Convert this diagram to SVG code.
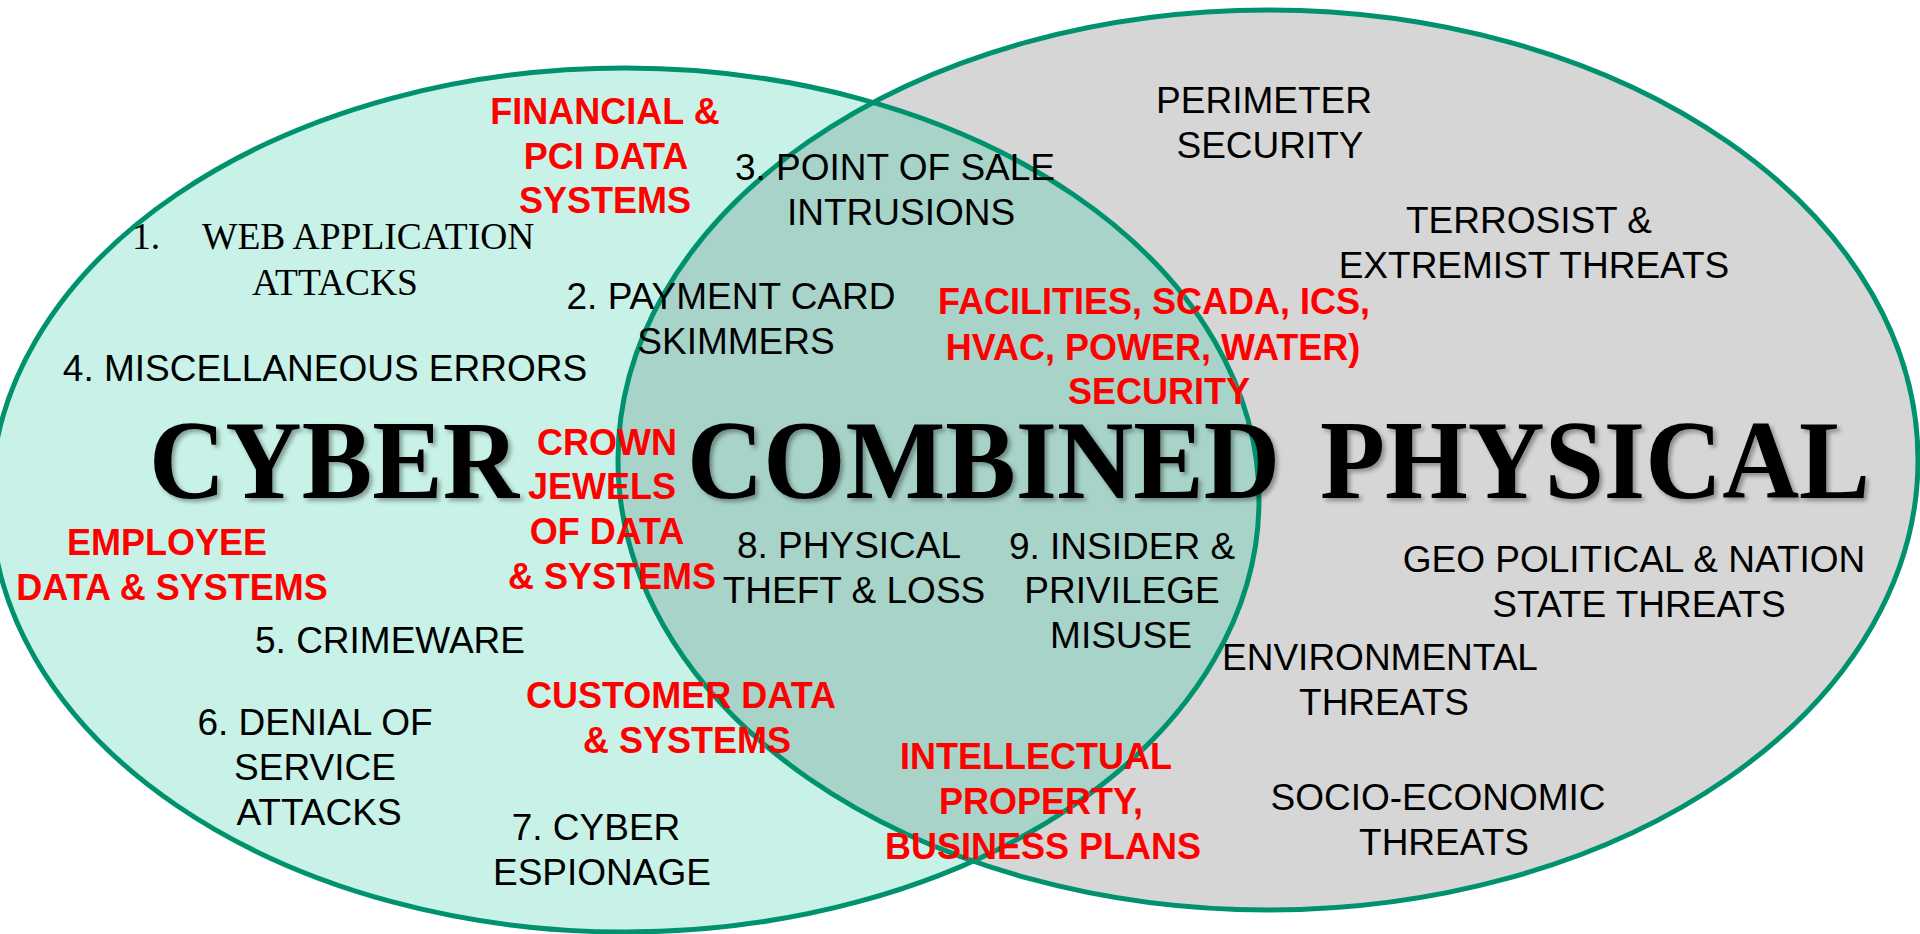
<svg xmlns="http://www.w3.org/2000/svg" width="1920" height="934" viewBox="0 0 1920 934">
<style>
.blk{font-family:"Liberation Sans",Arial,sans-serif;font-size:37px;fill:#000;text-anchor:middle}
.red{font-family:"Liberation Sans",Arial,sans-serif;font-size:36px;font-weight:bold;fill:#ff0000;text-anchor:middle}
.tms{font-family:"Liberation Serif","Times New Roman",serif;font-size:37.5px;fill:#000}
.big{font-family:"Liberation Serif","Times New Roman",serif;font-size:112px;font-weight:bold;fill:#000;filter:url(#sh)}
.ring{fill:none;stroke:#00926e;stroke-width:5}
</style>
<defs>
<filter id="sh" x="-5%" y="-20%" width="110%" height="140%">
<feDropShadow dx="3" dy="3" stdDeviation="2" flood-color="#000" flood-opacity="0.35"/>
</filter>
<clipPath id="leftClip"><ellipse cx="625" cy="500" rx="634" ry="432"/></clipPath>
</defs>
<rect width="1920" height="934" fill="#ffffff"/>
<g id="shapes">
<ellipse id="cyber-set" cx="625" cy="500" rx="634" ry="432" fill="#c8f2e7"/>
<ellipse id="physical-set" cx="1268" cy="460" rx="650" ry="450" fill="#d6d6d6"/>
<ellipse id="overlap" cx="1268" cy="460" rx="650" ry="450" fill="#a8d3c9" clip-path="url(#leftClip)"/>
<ellipse class="ring" cx="625" cy="500" rx="634" ry="432"/>
<ellipse class="ring" cx="1268" cy="460" rx="650" ry="450"/>
</g>
<g id="connectors"/>
<g id="titles">
<text id="t-cyber" class="big" x="149" y="498" textLength="370" lengthAdjust="spacingAndGlyphs">CYBER</text>
<text id="t-combined" class="big" x="687" y="498" textLength="593" lengthAdjust="spacingAndGlyphs">COMBINED</text>
<text id="t-physical" class="big" x="1320" y="498" textLength="550" lengthAdjust="spacingAndGlyphs">PHYSICAL</text>
</g>
<g id="n-financial"><text class="red"><tspan x="605" y="124">FINANCIAL &amp;</tspan><tspan x="606" y="169">PCI DATA</tspan><tspan x="605" y="213">SYSTEMS</tspan></text></g>
<g id="n-web"><text class="tms"><tspan x="132" y="249">1.</tspan><tspan x="202" y="249">WEB APPLICATION</tspan><tspan x="335" y="295" text-anchor="middle">ATTACKS</tspan></text></g>
<g id="n-pos"><text class="blk"><tspan x="895" y="180">3. POINT OF SALE</tspan><tspan x="901" y="225">INTRUSIONS</tspan></text></g>
<g id="n-payment"><text class="blk"><tspan x="731" y="309">2. PAYMENT CARD</tspan><tspan x="736" y="354">SKIMMERS</tspan></text></g>
<g id="n-misc"><text class="blk"><tspan x="325" y="381">4. MISCELLANEOUS ERRORS</tspan></text></g>
<g id="n-crown"><text class="red"><tspan x="607" y="455">CROWN</tspan><tspan x="602" y="499">JEWELS</tspan><tspan x="607" y="544">OF DATA</tspan><tspan x="612" y="589">&amp; SYSTEMS</tspan></text></g>
<g id="n-employee"><text class="red"><tspan x="167" y="555">EMPLOYEE</tspan><tspan x="172" y="600">DATA &amp; SYSTEMS</tspan></text></g>
<g id="n-crimeware"><text class="blk"><tspan x="390" y="653">5. CRIMEWARE</tspan></text></g>
<g id="n-dos"><text class="blk"><tspan x="315" y="735">6. DENIAL OF</tspan><tspan x="315" y="780">SERVICE</tspan><tspan x="319" y="825">ATTACKS</tspan></text></g>
<g id="n-customer"><text class="red"><tspan x="681" y="708">CUSTOMER DATA</tspan><tspan x="687" y="753">&amp; SYSTEMS</tspan></text></g>
<g id="n-espionage"><text class="blk"><tspan x="596" y="840">7. CYBER</tspan><tspan x="602" y="885">ESPIONAGE</tspan></text></g>
<g id="n-theft"><text class="blk"><tspan x="849" y="558">8. PHYSICAL</tspan><tspan x="854" y="603">THEFT &amp; LOSS</tspan></text></g>
<g id="n-insider"><text class="blk"><tspan x="1122" y="559">9. INSIDER &amp;</tspan><tspan x="1122" y="603">PRIVILEGE</tspan><tspan x="1121" y="648">MISUSE</tspan></text></g>
<g id="n-ip"><text class="red"><tspan x="1036" y="769">INTELLECTUAL</tspan><tspan x="1041" y="814">PROPERTY,</tspan><tspan x="1043" y="859">BUSINESS PLANS</tspan></text></g>
<g id="n-facilities"><text class="red"><tspan x="1154" y="314">FACILITIES, SCADA, ICS,</tspan><tspan x="1153" y="360">HVAC, POWER, WATER)</tspan><tspan x="1159" y="404">SECURITY</tspan></text></g>
<g id="n-perimeter"><text class="blk"><tspan x="1264" y="113">PERIMETER</tspan><tspan x="1270" y="158">SECURITY</tspan></text></g>
<g id="n-terrorist"><text class="blk"><tspan x="1529" y="233">TERROSIST &amp;</tspan><tspan x="1534" y="278">EXTREMIST THREATS</tspan></text></g>
<g id="n-geo"><text class="blk"><tspan x="1634" y="572">GEO POLITICAL &amp; NATION</tspan><tspan x="1639" y="617">STATE THREATS</tspan></text></g>
<g id="n-env"><text class="blk"><tspan x="1380" y="670">ENVIRONMENTAL</tspan><tspan x="1384" y="715">THREATS</tspan></text></g>
<g id="n-socio"><text class="blk"><tspan x="1438" y="810">SOCIO-ECONOMIC</tspan><tspan x="1444" y="855">THREATS</tspan></text></g>
</svg>
